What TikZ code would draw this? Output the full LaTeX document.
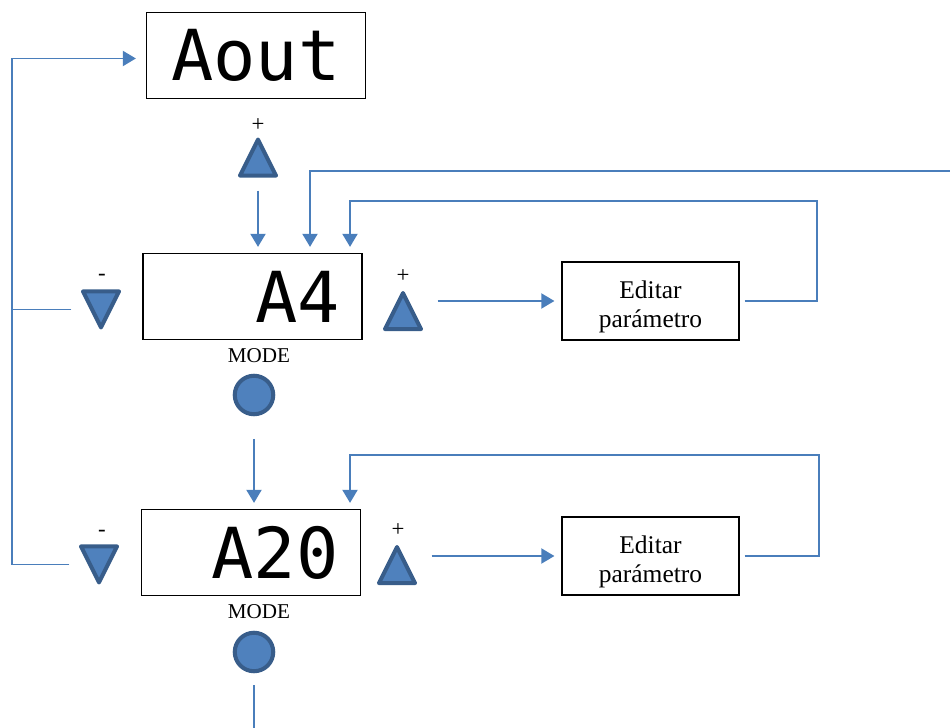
\documentclass[tikz,border=0pt]{standalone}
\usepackage{fontspec}
\setmainfont{Liberation Serif}
\newfontfamily\segfont{DejaVu Sans Mono}
\usepackage{tikz}
\usetikzlibrary{positioning,arrows.meta,shapes.geometric}

\definecolor{btnfill}{HTML}{4F81BD}
\definecolor{btnedge}{HTML}{385D8A}
\definecolor{wire}{HTML}{4A7EBB}

\begin{document}
\begin{tikzpicture}[
    every node/.style={font=\small},
    display/.style={draw, line width=0.7pt, minimum width=4.38cm,
                    minimum height=1.72cm, text width=3.5cm, inner sep=0pt,
                    font=\segfont\fontsize{40}{40}\selectfont},
    upbtn/.style={isosceles triangle, isosceles triangle apex angle=53,
                  shape border rotate=90, fill=btnfill, draw=btnedge,
                  line width=2.3pt, line join=round, inner sep=0pt,
                  minimum size=0.72cm},
    dnbtn/.style={upbtn, shape border rotate=-90},
    modebtn/.style={circle, fill=btnfill, draw=btnedge, line width=2.3pt,
                    inner sep=0pt, minimum size=0.77cm},
    editbox/.style={draw, line width=0.7pt, minimum width=3.54cm,
                    minimum height=1.56cm, align=center,
                    font=\fontsize{14.5}{17}\selectfont},
    sign/.style={font=\fontsize{13}{13}\selectfont, inner sep=1pt},
    tag/.style={font=\fontsize{12}{12}\selectfont, inner sep=1pt},
    flow/.style={line width=1.1pt, draw=wire},
    link/.style={flow, -{Triangle[length=0.26cm,width=0.3cm]},
                 shorten >=0.12cm},
]
\useasboundingbox (0,0) rectangle (19,-14.56);

% Displays
\node[display, align=center] (aout) at (5.12,-1.11) {Aout};
\node[display, align=right] (a4) at (5.05,-5.93) {A4};
\node[display, align=right] (a20) at (5.02,-11.05) {A20};

% Keys
\node[upbtn] (up0) at (5.16,-3.29) {};
\node[dnbtn] (dn1) at (2.02,-6.05) {};
\node[upbtn] (up1) at (8.06,-6.36) {};
\node[modebtn] (mode1) at (5.08,-7.9) {};
\node[dnbtn] (dn2) at (1.98,-11.15) {};
\node[upbtn] (up2) at (7.94,-11.44) {};
\node[modebtn] (mode2) at (5.08,-13.04) {};

% Key marks
\node[sign] (p0) at (5.16,-2.5) {+};
\node[sign] (m1) at (2.04,-5.55) {-};
\node[sign] (p1) at (8.06,-5.52) {+};
\node[sign] (m2) at (2.04,-10.66) {-};
\node[sign] (p2) at (7.96,-10.6) {+};
\node[tag] (t1) at (5.18,-7.12) {MODE};
\node[tag] (t2) at (5.18,-12.24) {MODE};

% Parameter editing
\node[editbox] (edit1) at (13.01,-6.02) {\rule{0pt}{5.9mm}Editar\\par\'ametro};
\node[editbox] (edit2) at (13.01,-11.12) {\rule{0pt}{5.9mm}Editar\\par\'ametro};

% Free ends
\coordinate (back) at (0.24,0);
\coordinate (far) at (19,-3.42);
\coordinate (exit) at (5.08,-14.56);
\coordinate (entry) at ([yshift=-0.6mm]aout.west);

% Return to Aout with the down key
\draw[link, shorten >=0.2cm] ([xshift=-3mm,yshift=-1.4mm]dn2.west)
    -| (back |- entry) -- (entry);
\draw[flow] ([xshift=-3mm,yshift=-1.4mm]dn1.west)
    -- ([yshift=-1.4mm]back |- dn1.west);

% Down the menu
\draw[link, shorten <=0.26cm] (up0.south) -- (up0 |- a4.north);
\draw[link] (far) -| ([xshift=11.5mm]a4.north);
\draw[link, shorten <=0.45cm] (mode1.south) -- (mode1 |- a20.north);
\draw[flow, shorten <=0.24cm] (mode2.south) -- (exit);

% Editing loops
\draw[link, shorten <=0.4cm, shorten >=0.14cm] (up1.east |- edit1.west)
    -- (edit1.west);
\draw[link, shorten <=1mm] (edit1.east) -| ++(1.55,2.0)
    -| ([xshift=19.5mm]a4.north);
\draw[link, shorten <=0.4cm, shorten >=0.14cm] (up2.east |- edit2.west)
    -- (edit2.west);
\draw[link, shorten <=1mm] (edit2.east) -| ++(1.58,2.02)
    -| ([xshift=19.8mm]a20.north);
\end{tikzpicture}
\end{document}
